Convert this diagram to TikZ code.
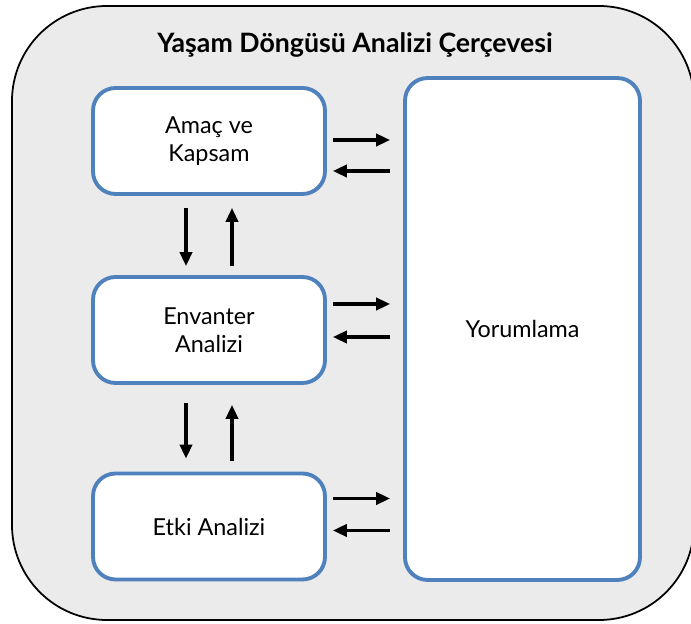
\documentclass[tikz,border=0pt]{standalone}
\usepackage{fontspec}
\setmainfont{Lato}
\usetikzlibrary{arrows.meta,calc}
\definecolor{framegray}{HTML}{EBEBEB}
\definecolor{boxblue}{HTML}{4F81BD}
\begin{document}
\begin{tikzpicture}[x=0.02cm,y=-0.02cm]
    % Define styles for shapes
    \tikzstyle{stepbox} = [draw=boxblue, fill=white, line width=2.2pt, rounded corners=0.45cm, minimum width=4.64cm, minimum height=2.12cm, align=center, font=\fontsize{13.3}{16}\selectfont]
    \tikzstyle{arr} = [-{Triangle[length=8pt,width=7pt]}, line width=1.8pt]

    \useasboundingbox (0,0) rectangle (691,624);

    % Draw the outer frame and title
    \draw[fill=framegray, line width=1pt, rounded corners=1.9cm] (12,6) rectangle (694,620);
    \node[font=\bfseries\fontsize{15.2}{18}\selectfont] (title) at (355,45) {Yaşam Döngüsü Analizi Çerçevesi};

    % Draw the boxes
    \node[stepbox] (amac) at (209,141) {Amaç ve\\Kapsam};
    \node[stepbox] (envanter) at (209,330) {Envanter\\Analizi};
    \node[stepbox] (etki) at (209,526.5) {Etki Analizi};
    \node[stepbox, minimum width=4.7cm, minimum height=10.04cm] (yorum) at (522.5,329) {Yorumlama};

    % Draw the arrows between the boxes and Yorumlama
    \draw[arr] ($(amac.east)+(6,-1)$) -- ($(amac.east -| yorum.west)+(-13,-1)$);
    \draw[arr] ($(amac.east -| yorum.west)+(-13,30)$) -- ($(amac.east)+(6,30)$);
    \draw[arr] ($(envanter.east)+(6,-26)$) -- ($(envanter.east -| yorum.west)+(-13,-26)$);
    \draw[arr] ($(envanter.east -| yorum.west)+(-13,7)$) -- ($(envanter.east)+(6,7)$);
    \draw[arr] ($(etki.east)+(6,-28)$) -- ($(etki.east -| yorum.west)+(-13,-28)$);
    \draw[arr] ($(etki.east -| yorum.west)+(-13,4)$) -- ($(etki.east)+(6,4)$);

    % Draw the arrows between the boxes on the left
    \draw[arr] ($(amac.south)+(-23,12)$) -- ($(envanter.north)+(-23,-9)$);
    \draw[arr] ($(envanter.north)+(23,-9)$) -- ($(amac.south)+(23,12)$);
    \draw[arr] ($(envanter.south)+(-23,18)$) -- ($(etki.north)+(-23,-13)$);
    \draw[arr] ($(etki.north)+(23,-11)$) -- ($(envanter.south)+(23,20)$);

\end{tikzpicture}
\end{document}
